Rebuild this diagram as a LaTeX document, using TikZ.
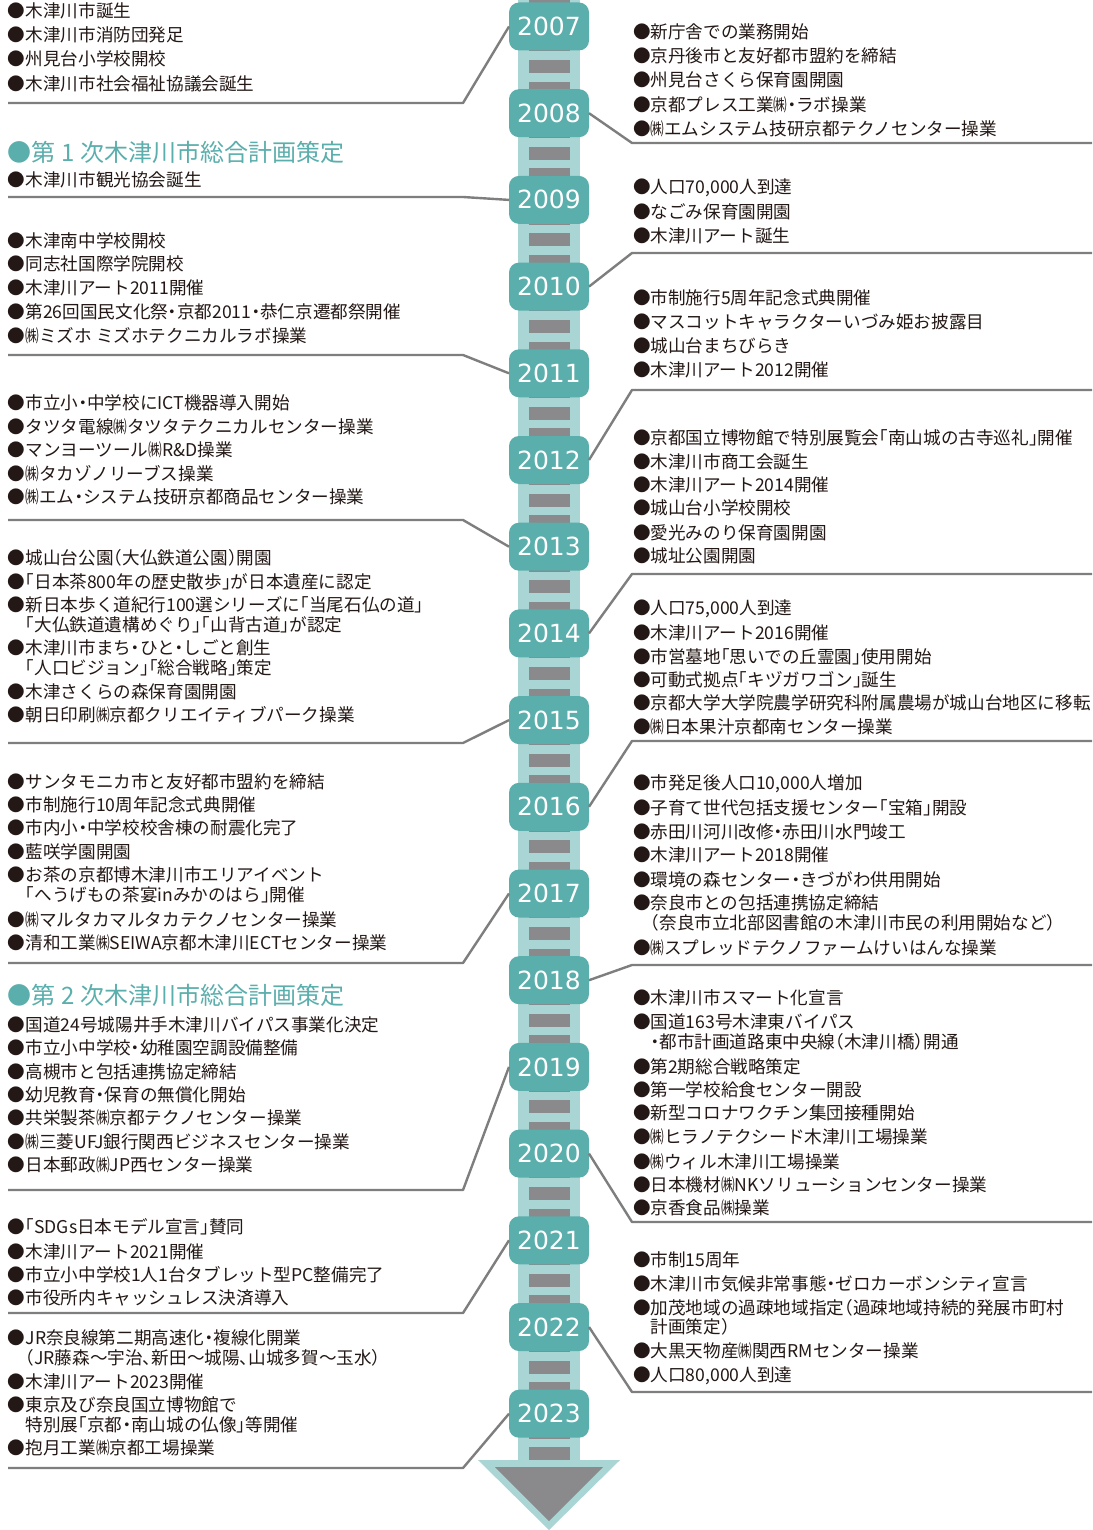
\documentclass[tikz,border=0pt]{standalone}
\usepackage{fontspec}
\usepackage{graphicx}
\newfontfamily\jpf[RawFeature=+halt]{Noto Sans CJK JP}
\newfontfamily\yrf{DejaVu Sans}
\definecolor{ink}{HTML}{231815}
\definecolor{tealb}{HTML}{5AAEAC}
\definecolor{spinec}{HTML}{A9D6D4}
\definecolor{tiec}{HTML}{8A898C}
\definecolor{connc}{HTML}{7E7E7E}
\newcommand\kb{\scalebox{0.78}[1]{㈱}}
\tikzset{
 evt/.style={anchor=base west, inner sep=0pt, outer sep=0pt, text=ink, font=\jpf\fontsize{17.6}{20}\selectfont, yshift=-6.7pt},
 head/.style={anchor=base west, inner sep=0pt, outer sep=0pt, text=tealb, font=\jpf\fontsize{24}{28}\selectfont, yshift=-9.1pt},
 badge/.style={fill=tealb, rounded corners=10pt, minimum width=80pt, minimum height=48pt, inner sep=0pt, outer sep=0pt, text=white, font=\yrf\fontsize{25}{28}\selectfont},
 conn/.style={draw=connc, line width=2.4pt, line join=round},
}
\newcommand\evL[3]{\node[evt] (#1) at (8,#2) {●#3};}
\newcommand\evLc[3]{\node[evt] (#1) at (8,#2) {\phantom{●}#3};}
\newcommand\evR[3]{\node[evt] (#1) at (633,#2) {●#3};}
\newcommand\evRc[3]{\node[evt] (#1) at (633,#2) {\phantom{●}#3};}
\newcommand\cnL[2]{\coordinate (k#1) at (463,#2); \coordinate (e#1) at (8,#2); \draw[conn] (b#1.west) -- (k#1) -- (e#1);}
\newcommand\cnR[2]{\coordinate (k#1) at (632,#2); \coordinate (e#1) at (1092,#2); \draw[conn] (b#1.east) -- (k#1) -- (e#1);}
\begin{document}
\begin{tikzpicture}[x=1pt,y=-1pt]
\useasboundingbox (0,0) rectangle (1092,1530);
\fill[white] (0,0) rectangle (1092,1530);
% spine
\fill[spinec] (518,0) rectangle (580,1462);
\fill[spinec] (478,1460) -- (620,1460) -- (549,1530) -- cycle;
\fill[tiec] (495,1467) -- (603,1467) -- (549,1521) -- cycle;
\foreach \j in {-3,...,64}{
  \pgfmathsetmacro\ty{60+21.675*\j}
  \fill[tiec] ({528.5},{\ty}) rectangle ({569.5},{\ty+13});
}
% badges
\foreach \k in {0,...,16}{
  \pgfmathsetmacro\yc{26.5+86.7*\k}
  \pgfmathtruncatemacro\yy{2007+\k}
  \node[badge] (b\yy) at (549,\yc) {\yy};
}
% connectors
\cnL{2007}{103}
\cnL{2009}{197}
\cnL{2011}{355}
\cnL{2013}{520}
\cnL{2015}{743}
\cnL{2017}{963}
\cnL{2019}{1190}
\cnL{2021}{1313}
\cnL{2023}{1468}
\cnR{2008}{143}
\cnR{2010}{253}
\cnR{2012}{390}
\cnR{2014}{574}
\cnR{2016}{741}
\cnR{2018}{965}
\cnR{2020}{1222}
\cnR{2022}{1392}
% left 2007
\evL{la1}{11}{木津川市誕生}
\evL{la2}{35}{木津川市消防団発足}
\evL{la3}{59}{州見台小学校開校}
\evL{la4}{84}{木津川市社会福祉協議会誕生}
% left 2009
\node[head] (h1) at (8,152) {●第 1 次木津川市総合計画策定};
\evL{lb1}{180}{木津川市観光協会誕生}
% left 2011
\evL{lc1}{241}{木津南中学校開校}
\evL{lc2}{264}{同志社国際学院開校}
\evL{lc3}{288}{木津川アート2011開催}
\evL{lc4}{312}{第26回国民文化祭・京都2011・恭仁京遷都祭開催}
\evL{lc5}{336}{\kb ミズホ ミズホテクニカルラボ操業}
% left 2013
\evL{ld1}{403}{市立小・中学校にICT機器導入開始}
\evL{ld2}{427}{タツタ電線\kb タツタテクニカルセンター操業}
\evL{ld3}{450}{マンヨーツール\kb R\&D操業}
\evL{ld4}{474}{\kb タカゾノリーブス操業}
\evL{ld5}{497}{\kb エム・システム技研京都商品センター操業}
% left 2015
\evL{le1}{558}{城山台公園（大仏鉄道公園）開園}
\evL{le2}{582}{「日本茶800年の歴史散歩」が日本遺産に認定}
\evL{le3}{605}{新日本歩く道紀行100選シリーズに「当尾石仏の道」}
\evLc{le4}{625}{「大仏鉄道遺構めぐり」「山背古道」が認定}
\evL{le5}{648}{木津川市まち・ひと・しごと創生}
\evLc{le6}{668}{「人口ビジョン」「総合戦略」策定}
\evL{le7}{692}{木津さくらの森保育園開園}
\evL{le8}{715}{朝日印刷\kb 京都クリエイティブパーク操業}
% left 2017
\evL{lf1}{782}{サンタモニカ市と友好都市盟約を締結}
\evL{lf2}{805}{市制施行10周年記念式典開催}
\evL{lf3}{828}{市内小・中学校校舎棟の耐震化完了}
\evL{lf4}{852}{藍咲学園開園}
\evL{lf5}{875}{お茶の京都博木津川市エリアイベント}
\evLc{lf6}{895}{「へうげもの茶宴inみかのはら」開催}
\evL{lf7}{920}{\kb マルタカマルタカテクノセンター操業}
\evL{lf8}{943}{清和工業\kb SEIWA京都木津川ECTセンター操業}
% left 2019
\node[head] (h2) at (8,995) {●第 2 次木津川市総合計画策定};
\evL{lg1}{1025}{国道24号城陽井手木津川バイパス事業化決定}
\evL{lg2}{1048}{市立小中学校・幼稚園空調設備整備}
\evL{lg3}{1072}{高槻市と包括連携協定締結}
\evL{lg4}{1095}{幼児教育・保育の無償化開始}
\evL{lg5}{1118}{共栄製茶\kb 京都テクノセンター操業}
\evL{lg6}{1142}{\kb 三菱UFJ銀行関西ビジネスセンター操業}
\evL{lg7}{1165}{日本郵政\kb JP西センター操業}
% left 2021
\evL{lh1}{1227}{「SDGs日本モデル宣言」賛同}
\evL{lh2}{1252}{木津川アート2021開催}
\evL{lh3}{1275}{市立小中学校1人1台タブレット型PC整備完了}
\evL{lh4}{1298}{市役所内キャッシュレス決済導入}
% left 2023
\evL{li1}{1338}{JR奈良線第二期高速化・複線化開業}
\evLc{li2}{1358}{（JR藤森～宇治、新田～城陽、山城多賀～玉水）}
\evL{li3}{1382}{木津川アート2023開催}
\evL{li4}{1405}{東京及び奈良国立博物館で}
\evLc{li5}{1425}{特別展「京都・南山城の仏像」等開催}
\evL{li6}{1448}{抱月工業\kb 京都工場操業}
% right 2008
\evR{ra1}{32}{新庁舎での業務開始}
\evR{ra2}{56}{京丹後市と友好都市盟約を締結}
\evR{ra3}{80}{州見台さくら保育園開園}
\evR{ra4}{105}{京都プレス工業\kb ・ラボ操業}
\evR{ra5}{129}{\kb エムシステム技研京都テクノセンター操業}
% right 2010
\evR{rb1}{187}{人口70,000人到達}
\evR{rb2}{212}{なごみ保育園開園}
\evR{rb3}{236}{木津川アート誕生}
% right 2012
\evR{rc1}{298}{市制施行5周年記念式典開催}
\evR{rc2}{322}{マスコットキャラクターいづみ姫お披露目}
\evR{rc3}{346}{城山台まちびらき}
\evR{rc4}{370}{木津川アート2012開催}
% right 2014
\evR{rd1}{438}{京都国立博物館で特別展覧会「南山城の古寺巡礼」開催}
\evR{rd2}{462}{木津川市商工会誕生}
\evR{rd3}{485}{木津川アート2014開催}
\evR{rd4}{508}{城山台小学校開校}
\evR{rd5}{533}{愛光みのり保育園開園}
\evR{rd6}{556}{城址公園開園}
% right 2016
\evR{re1}{608}{人口75,000人到達}
\evR{re2}{633}{木津川アート2016開催}
\evR{re3}{657}{市営墓地「思いでの丘霊園」使用開始}
\evR{re4}{680}{可動式拠点「キヅガワゴン」誕生}
\evR{re5}{703}{京都大学大学院農学研究科附属農場が城山台地区に移転}
\evR{re6}{727}{\kb 日本果汁京都南センター操業}
% right 2018
\evR{rf1}{783}{市発足後人口10,000人増加}
\evR{rf2}{808}{子育て世代包括支援センター「宝箱」開設}
\evR{rf3}{832}{赤田川河川改修・赤田川水門竣工}
\evR{rf4}{855}{木津川アート2018開催}
\evR{rf5}{880}{環境の森センター・きづがわ供用開始}
\evR{rf6}{903}{奈良市との包括連携協定締結}
\evRc{rf7}{923}{（奈良市立北部図書館の木津川市民の利用開始など）}
\evR{rf8}{948}{\kb スプレッドテクノファームけいはんな操業}
% right 2020
\evR{rg1}{998}{木津川市スマート化宣言}
\evR{rg2}{1022}{国道163号木津東バイパス}
\evRc{rg3}{1042}{・都市計画道路東中央線（木津川橋）開通}
\evR{rg4}{1067}{第2期総合戦略策定}
\evR{rg5}{1090}{第一学校給食センター開設}
\evR{rg6}{1113}{新型コロナワクチン集団接種開始}
\evR{rg7}{1137}{\kb ヒラノテクシード木津川工場操業}
\evR{rg8}{1162}{\kb ウィル木津川工場操業}
\evR{rg9}{1185}{日本機材\kb NKソリューションセンター操業}
\evR{rg10}{1208}{京香食品\kb 操業}
% right 2022
\evR{rh1}{1260}{市制15周年}
\evR{rh2}{1284}{木津川市気候非常事態・ゼロカーボンシティ宣言}
\evR{rh3}{1308}{加茂地域の過疎地域指定（過疎地域持続的発展市町村}
\evRc{rh4}{1327}{計画策定）}
\evR{rh5}{1351}{大黒天物産\kb 関西RMセンター操業}
\evR{rh6}{1375}{人口80,000人到達}
\end{tikzpicture}
\end{document}
